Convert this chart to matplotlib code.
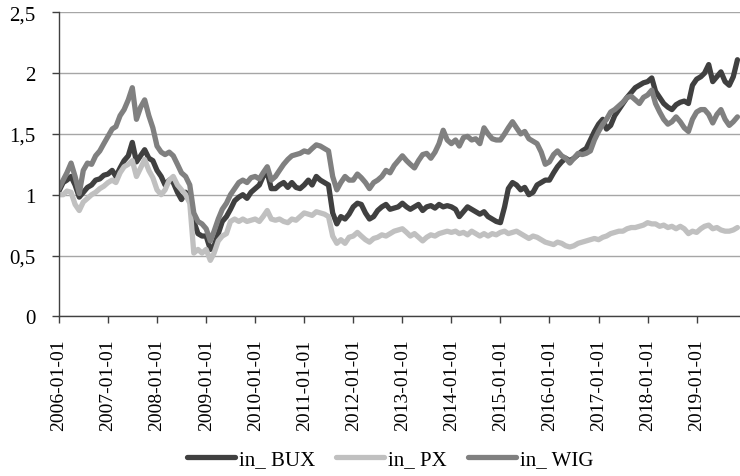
import pandas as pd
import matplotlib
matplotlib.use("Agg")
import matplotlib.pyplot as plt
import matplotlib.dates as mdates
from matplotlib.ticker import FuncFormatter

plt.rcParams['font.family'] = ['Liberation Serif', 'DejaVu Serif']

# monthly values (start of month), Jan 2006 - Nov 2019
dates = pd.date_range('2006-01-01', '2019-11-01', freq='MS')

bux = [
    1.03, 1.10, 1.12, 1.15, 1.08, 0.98, 1.02, 1.06, 1.08, 1.12, 1.13, 1.16,  # 2006
    1.17, 1.20, 1.15, 1.22, 1.28, 1.32, 1.43, 1.27, 1.32, 1.37, 1.30, 1.28,  # 2007
    1.20, 1.15, 1.08, 1.12, 1.10, 1.02, 0.96, 1.02, 0.97, 0.78, 0.68, 0.66,  # 2008
    0.66, 0.55, 0.58, 0.68, 0.78, 0.82, 0.88, 0.95, 0.98, 1.00, 0.97, 1.02,  # 2009
    1.05, 1.08, 1.15, 1.18, 1.05, 1.05, 1.08, 1.10, 1.06, 1.10, 1.06, 1.05,  # 2010
    1.08, 1.12, 1.08, 1.15, 1.12, 1.10, 1.08, 0.85, 0.76, 0.82, 0.80, 0.84,  # 2011
    0.90, 0.93, 0.92, 0.85, 0.80, 0.82, 0.87, 0.90, 0.92, 0.88, 0.89, 0.90,  # 2012
    0.93, 0.90, 0.88, 0.90, 0.92, 0.87, 0.90, 0.91, 0.89, 0.92, 0.90, 0.91,  # 2013
    0.90, 0.88, 0.82, 0.86, 0.90, 0.88, 0.86, 0.84, 0.86, 0.82, 0.80, 0.78,  # 2014
    0.77, 0.90, 1.05, 1.10, 1.08, 1.04, 1.06, 1.00, 1.02, 1.08, 1.10, 1.12,  # 2015
    1.12, 1.18, 1.23, 1.27, 1.30, 1.28, 1.30, 1.33, 1.36, 1.38, 1.45, 1.52,  # 2016
    1.58, 1.62, 1.54, 1.57, 1.65, 1.70, 1.75, 1.80, 1.84, 1.88, 1.90, 1.92,  # 2017
    1.93, 1.96, 1.85, 1.80, 1.75, 1.72, 1.70, 1.74, 1.76, 1.77, 1.75, 1.90,  # 2018
    1.95, 1.97, 2.00, 2.07, 1.93, 1.97, 2.01, 1.93, 1.90, 1.97, 2.11,        # 2019
]

px = [
    1.00, 1.00, 1.03, 1.02, 0.92, 0.87, 0.94, 0.97, 1.00, 1.02, 1.05, 1.07,  # 2006
    1.10, 1.12, 1.10, 1.18, 1.23, 1.25, 1.28, 1.15, 1.22, 1.29, 1.20, 1.14,  # 2007
    1.04, 1.00, 1.04, 1.12, 1.15, 1.08, 1.04, 1.00, 0.93, 0.52, 0.55, 0.52,  # 2008
    0.55, 0.46, 0.52, 0.62, 0.66, 0.68, 0.78, 0.80, 0.78, 0.80, 0.78, 0.79,  # 2009
    0.80, 0.78, 0.82, 0.87, 0.80, 0.79, 0.80, 0.78, 0.77, 0.80, 0.79, 0.82,  # 2010
    0.85, 0.84, 0.83, 0.86, 0.85, 0.84, 0.82, 0.66, 0.60, 0.63, 0.60, 0.65,  # 2011
    0.66, 0.69, 0.66, 0.63, 0.61, 0.64, 0.65, 0.67, 0.66, 0.68, 0.70, 0.71,  # 2012
    0.72, 0.69, 0.66, 0.68, 0.65, 0.62, 0.65, 0.67, 0.66, 0.68, 0.69, 0.70,  # 2013
    0.69, 0.70, 0.68, 0.69, 0.67, 0.70, 0.68, 0.66, 0.68, 0.66, 0.68, 0.67,  # 2014
    0.69, 0.70, 0.68, 0.69, 0.70, 0.68, 0.66, 0.64, 0.66, 0.65, 0.63, 0.61,  # 2015
    0.60, 0.59, 0.61, 0.60, 0.58, 0.57, 0.58, 0.60, 0.61, 0.62, 0.63, 0.64,  # 2016
    0.63, 0.65, 0.66, 0.68, 0.69, 0.70, 0.70, 0.72, 0.73, 0.73, 0.74, 0.75,  # 2017
    0.77, 0.76, 0.76, 0.74, 0.75, 0.73, 0.74, 0.72, 0.74, 0.72, 0.68, 0.70,  # 2018
    0.69, 0.72, 0.74, 0.75, 0.72, 0.73, 0.71, 0.70, 0.70, 0.71, 0.73,        # 2019
]

wig = [
    1.05, 1.12, 1.18, 1.26, 1.15, 1.01, 1.20, 1.26, 1.25, 1.32, 1.36, 1.42,  # 2006
    1.48, 1.54, 1.56, 1.65, 1.70, 1.78, 1.88, 1.62, 1.72, 1.78, 1.65, 1.55,  # 2007
    1.40, 1.35, 1.33, 1.35, 1.32, 1.25, 1.18, 1.15, 1.08, 0.85, 0.78, 0.76,  # 2008
    0.72, 0.62, 0.70, 0.80, 0.88, 0.93, 1.00, 1.05, 1.10, 1.12, 1.10, 1.14,  # 2009
    1.15, 1.13, 1.18, 1.23, 1.12, 1.15, 1.20, 1.25, 1.29, 1.32, 1.33, 1.34,  # 2010
    1.36, 1.35, 1.38, 1.41, 1.40, 1.38, 1.36, 1.15, 1.04, 1.10, 1.15, 1.12,  # 2011
    1.12, 1.17, 1.14, 1.10, 1.05, 1.10, 1.12, 1.15, 1.20, 1.18, 1.24, 1.28,  # 2012
    1.32, 1.28, 1.25, 1.22, 1.28, 1.33, 1.34, 1.30, 1.35, 1.42, 1.53, 1.45,  # 2013
    1.42, 1.45, 1.40, 1.47, 1.48, 1.45, 1.46, 1.42, 1.55, 1.50, 1.46, 1.45,  # 2014
    1.45, 1.50, 1.55, 1.60, 1.55, 1.50, 1.52, 1.46, 1.44, 1.42, 1.35, 1.25,  # 2015
    1.27, 1.33, 1.36, 1.32, 1.30, 1.26, 1.30, 1.34, 1.33, 1.34, 1.36, 1.45,  # 2016
    1.52, 1.58, 1.62, 1.68, 1.70, 1.73, 1.76, 1.80, 1.81, 1.78, 1.75, 1.80,  # 2017
    1.82, 1.86, 1.75, 1.68, 1.62, 1.58, 1.60, 1.64, 1.60, 1.55, 1.52, 1.62,  # 2018
    1.68, 1.70, 1.70, 1.66, 1.59, 1.66, 1.70, 1.62, 1.57, 1.60, 1.64,        # 2019
]

labels = ['in_ BUX', 'in_ PX', 'in_ WIG']
colors = ['#404040', '#c0c0c0', '#808080']

fig = plt.figure(figsize=(7.4, 4.77), dpi=100)
ax = fig.add_axes([0.0797, 0.3348, 0.9203, 0.6373])

for vals, lab, col in zip([bux, px, wig], labels, colors):
    ax.plot(dates, vals, color=col, lw=3.8, label=lab, solid_capstyle='round')

ax.set_ylim(0, 2.5)
ax.set_yticks([0, 0.5, 1, 1.5, 2, 2.5])
ax.yaxis.set_major_formatter(FuncFormatter(lambda v, p: ('%g' % v).replace('.', ',')))
ax.set_xlim(pd.Timestamp('2006-01-01'), pd.Timestamp('2019-11-20'))
ax.xaxis.set_major_locator(mdates.YearLocator())
ax.xaxis.set_major_formatter(mdates.DateFormatter('%Y-%m-%d'))

ax.grid(axis='y', color='#a6a6a6', lw=1)
ax.set_axisbelow(True)
for s in ['top', 'right']:
    ax.spines[s].set_visible(False)
for s in ['left', 'bottom']:
    ax.spines[s].set_color('#404040')
    ax.spines[s].set_linewidth(1)

ax.tick_params(axis='x', direction='out', length=5, width=1, color='#404040',
               labelsize=14, rotation=90, pad=11)
ax.tick_params(axis='y', direction='out', length=5, width=1, color='#404040',
               labelsize=15, pad=12)

fig.legend(loc='center', bbox_to_anchor=(0.527, 0.034), ncol=3, frameon=False,
           fontsize=15, handlelength=2.3, handletextpad=0.2, columnspacing=1.0)

fig.savefig('out.png', dpi=100)
